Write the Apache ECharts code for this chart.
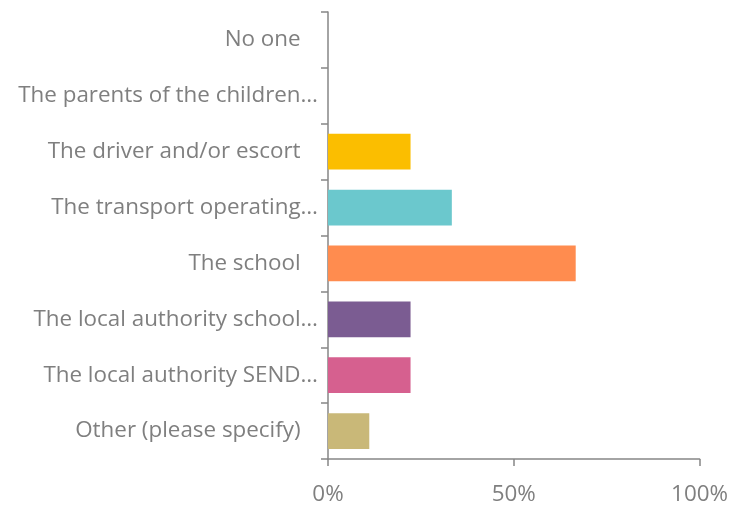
<!DOCTYPE html>
<html>
<head>
<meta charset="utf-8">
<script src="https://cdn.jsdelivr.net/npm/echarts@6/dist/echarts.min.js"></script>
<style>
  html, body { margin: 0; padding: 0; background: #ffffff; }
  #chart { width: 731px; height: 506px; }
</style>
</head>
<body>
<div id="chart"></div>
<script>
// Who is responsible — share of responses (%)
const categories = [
  'No one   ',
  'The parents of the children\u2026',
  'The driver and/or escort   ',
  'The transport operating\u2026',
  'The school   ',
  'The local authority school\u2026',
  'The local authority SEND\u2026',
  'Other (please specify)   '
];
const values = [0, 0, 22.22, 33.33, 66.67, 22.22, 22.22, 11.11];
const barColors = ['#FBBE00', '#FBBE00', '#FBBE00', '#6BC8CD', '#FF8C4F', '#7B5C92', '#D6608F', '#C9B878'];
const xTicks = [0, 50, 100];

const axisGray = '#868686';
const textGray = '#7f7f7f';
const fontFamily = '"Open Sans", sans-serif';

const chart = echarts.init(document.getElementById('chart'), null, { renderer: 'canvas' });
chart.setOption({
  animation: false,
  grid: { left: 328, right: 31, top: 12, bottom: 45, containLabel: false },
  xAxis: {
    type: 'value',
    min: xTicks[0],
    max: xTicks[xTicks.length - 1],
    interval: xTicks[1] - xTicks[0],
    axisLine: { show: true, lineStyle: { color: axisGray, width: 1.5 } },
    axisTick: { show: true, length: 7, lineStyle: { color: axisGray, width: 1.5 } },
    splitLine: { show: false },
    axisLabel: {
      formatter: v => v + '%',
      color: textGray,
      fontSize: 22.4,
      fontFamily: fontFamily,
      margin: 25
    }
  },
  yAxis: {
    type: 'category',
    inverse: true,
    data: categories,
    axisLine: { show: true, lineStyle: { color: axisGray, width: 1.5 } },
    axisTick: { show: true, length: 7, lineStyle: { color: axisGray, width: 1.5 } },
    axisLabel: {
      color: textGray,
      fontSize: 22.4,
      fontFamily: fontFamily,
      margin: 10
    }
  },
  series: [{
    type: 'bar',
    barCategoryGap: '36%',
    data: values.map((v, i) => ({ value: v, itemStyle: { color: barColors[i] } }))
  }]
});
</script>
</body>
</html>
